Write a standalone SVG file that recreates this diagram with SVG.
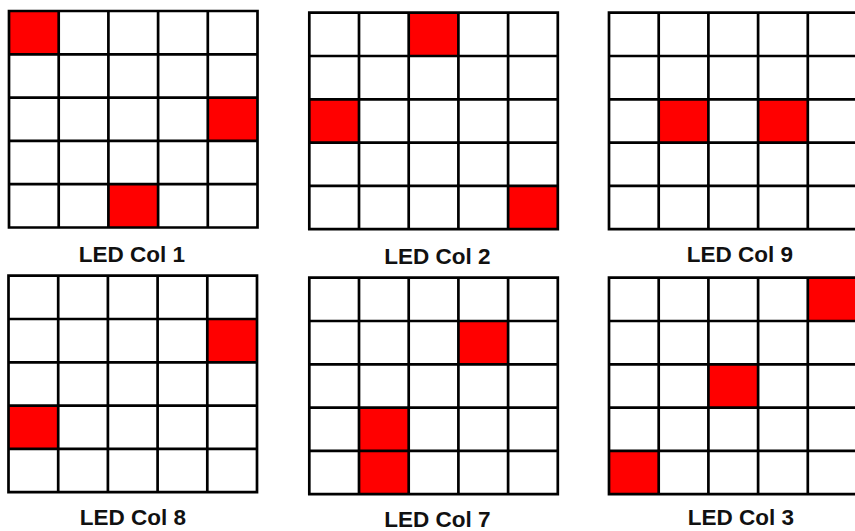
<svg xmlns="http://www.w3.org/2000/svg" xmlns:xlink="http://www.w3.org/1999/xlink" width="855" height="531" viewBox="0 0 855 531">
<style>
.bg{fill:#ffffff}
.on{fill:#ff0000}
.grid{fill:none;stroke:#000000;stroke-width:2.7}
.lbl{font-family:"Liberation Sans",Arial,sans-serif;font-weight:bold;font-size:22.5px;fill:#111111;text-anchor:middle}
</style>
<defs>
<path id="gridlines" class="grid" d="M0,0H248.5V216.5H0Z M49.7,0V216.5 M99.4,0V216.5 M149.1,0V216.5 M198.8,0V216.5 M0,43.3H248.5 M0,86.6H248.5 M0,129.9H248.5 M0,173.2H248.5"/>
<rect id="cell" class="on" width="49.7" height="43.3"/>
</defs>
<rect class="bg" width="855" height="531"/>
<g id="col1" transform="translate(9,11)">
<use xlink:href="#cell" x="0" y="0"/>
<use xlink:href="#cell" x="198.8" y="86.6"/>
<use xlink:href="#cell" x="99.4" y="173.2"/>
<use xlink:href="#gridlines"/>
</g>
<g id="col2" transform="translate(309.3,12.7)">
<use xlink:href="#cell" x="99.4" y="0"/>
<use xlink:href="#cell" x="0" y="86.6"/>
<use xlink:href="#cell" x="198.8" y="173.2"/>
<use xlink:href="#gridlines"/>
</g>
<g id="col9" transform="translate(609,12.7)">
<use xlink:href="#cell" x="49.7" y="86.6"/>
<use xlink:href="#cell" x="149.1" y="86.6"/>
<use xlink:href="#gridlines"/>
</g>
<g id="col8" transform="translate(8.5,275.7)">
<use xlink:href="#cell" x="198.8" y="43.3"/>
<use xlink:href="#cell" x="0" y="129.9"/>
<use xlink:href="#gridlines"/>
</g>
<g id="col7" transform="translate(309.3,277.7)">
<use xlink:href="#cell" x="149.1" y="43.3"/>
<use xlink:href="#cell" x="49.7" y="129.9"/>
<use xlink:href="#cell" x="49.7" y="173.2"/>
<use xlink:href="#gridlines"/>
</g>
<g id="col3" transform="translate(609,277.7)">
<use xlink:href="#cell" x="198.8" y="0"/>
<use xlink:href="#cell" x="99.4" y="86.6"/>
<use xlink:href="#cell" x="0" y="173.2"/>
<use xlink:href="#gridlines"/>
</g>
<g id="labels">
<text class="lbl" x="132" y="262.3">LED Col 1</text>
<text class="lbl" x="437.5" y="263.5">LED Col 2</text>
<text class="lbl" x="740" y="262">LED Col 9</text>
<text class="lbl" x="133" y="524.5">LED Col 8</text>
<text class="lbl" x="437.5" y="526.8">LED Col 7</text>
<text class="lbl" x="741" y="525.2">LED Col 3</text>
</g>
<g id="connectors"/>
</svg>
